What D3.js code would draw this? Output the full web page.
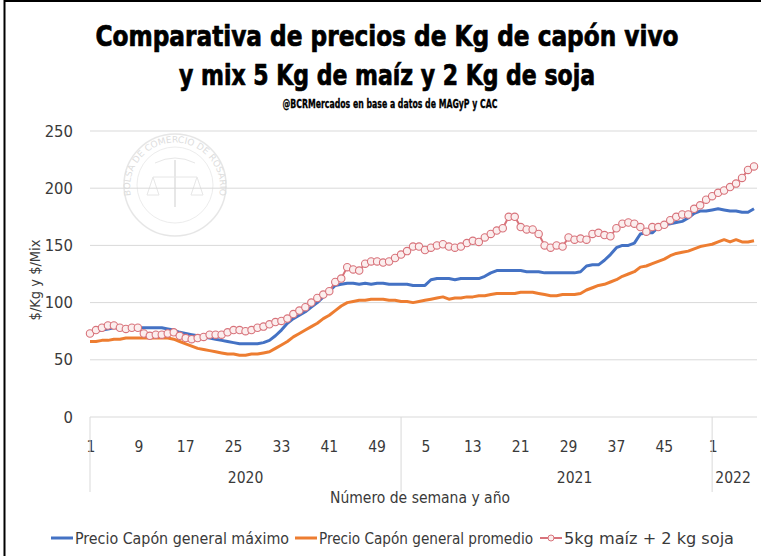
<!DOCTYPE html>
<html><head><meta charset="utf-8">
<script src="https://cdn.jsdelivr.net/npm/d3@7"></script>
<style>
body{margin:0;background:#fff;}
svg{display:block;}
</style></head>
<body>
<svg id="c" width="761" height="556"></svg>
<script>
// ---- data ----
const years = [2020, 2021, 2022];
const weeksPerYear = [52, 52, 8];
const yTicks = [0, 50, 100, 150, 200, 250];
const seriesNames = ["Precio Capón general máximo", "Precio Capón general promedio", "5kg maíz + 2 kg soja"];
const precioMaximo = [
 74,75,76,77,78,78,78,78,78,78,78,78,78,77,76,74,73,72,71,70,69,68,67,66,65,64,64,64,64,65,
 67,71,76,82,86,89,92,96,100,105,110,115,116,117,117,116,117,116,117,117,116,116,
 116,116,115,115,115,120,121,121,121,120,121,121,121,121,123,126,128,128,128,128,128,127,127,127,
 126,126,126,126,126,126,127,132,133,133,137,142,148,150,150,152,160,161,161,166,168,169,170,171,174,178,180,180,
 181,182,181,180,180,179,179,182];
const precioPromedio = [
 66,66,67,67,68,68,69,69,69,69,69,69,69,69,68,66,64,62,60,59,58,57,56,55,55,54,54,55,55,56,
 57,60,63,66,70,73,76,79,82,86,89,93,97,100,101,102,102,103,103,103,102,102,
 101,101,100,101,102,103,104,105,103,104,104,105,105,106,106,107,108,108,108,108,109,109,109,108,
 107,106,106,107,107,107,108,111,113,115,116,118,120,123,125,127,131,132,134,136,138,141,143,144,145,147,149,150,
 151,153,155,153,155,153,153,154];
const mixMaizSoja = [
 73,76,78,80,80,78,77,78,78,73,71,72,72,73,74,71,69,68,69,70,72,72,72,74,76,76,75,76,78,79,
 81,83,84,86,90,93,96,100,104,107,110,118,121,131,129,128,134,136,136,135,136,139,
 142,145,149,149,146,148,150,151,149,148,149,152,154,153,157,160,163,165,175,175,166,164,164,160,
 150,148,150,149,157,155,156,155,160,161,159,158,165,169,170,169,166,162,166,166,168,172,175,177,177,182,185,190,
 193,196,198,201,204,209,216,219];

// ---- build categories ----
const cats = [];
years.forEach((yr, k) => { for (let w = 1; w <= weeksPerYear[k]; w++) cats.push({year: yr, week: w}); });

const svg = d3.select("#c");
const W = 761, H = 556;
const pLeft = 90, pRight = 757, pTop = 131, pBottom = 417;
const x = d3.scaleLinear().domain([0, cats.length - 1]).range([pLeft, 754]);
const y = d3.scaleLinear().domain([0, 250]).range([pBottom, pTop]);

const axisFont = "'DejaVu Sans Condensed',sans-serif";
const txtCol = "#3a3a3a";

// frame
svg.append("line").attr("x1", 4.5).attr("x2", 4.5).attr("y1", 0).attr("y2", H).attr("stroke", "#000").attr("stroke-width", 2);
svg.append("line").attr("x1", 4).attr("x2", W).attr("y1", 1).attr("y2", 1).attr("stroke", "#000").attr("stroke-width", 2);

// titles
const tfont = "'DejaVu Sans Condensed','Roboto',sans-serif";
svg.append("text").attr("x", 387).attr("y", 46).attr("text-anchor", "middle")
  .attr("font-family", tfont).attr("font-weight", "bold").attr("font-size", 28)
  .attr("stroke", "#000").attr("stroke-width", 0.7)
  .attr("textLength", 583).attr("lengthAdjust", "spacingAndGlyphs")
  .text("Comparativa de precios de Kg de capón vivo");
svg.append("text").attr("x", 387).attr("y", 85).attr("text-anchor", "middle")
  .attr("font-family", tfont).attr("font-weight", "bold").attr("font-size", 28)
  .attr("stroke", "#000").attr("stroke-width", 0.7)
  .attr("textLength", 416).attr("lengthAdjust", "spacingAndGlyphs")
  .text("y mix 5 Kg de maíz y 2 Kg de soja");
svg.append("text").attr("x", 390).attr("y", 108).attr("text-anchor", "middle")
  .attr("font-family", tfont).attr("font-weight", "bold").attr("font-size", 12.5)
  .attr("stroke", "#000").attr("stroke-width", 0.3)
  .attr("textLength", 215).attr("lengthAdjust", "spacingAndGlyphs")
  .text("@BCRMercados en base a datos de MAGyP y CAC");

// watermark seal
const seal = svg.append("g").attr("transform", "translate(175,185)").attr("opacity", 0.5);
seal.append("circle").attr("r", 51).attr("fill", "none").attr("stroke", "#cfcfcf").attr("stroke-width", 1.5);
seal.append("circle").attr("r", 38).attr("fill", "none").attr("stroke", "#dcdcdc").attr("stroke-width", 1);
seal.append("path").attr("id", "sealArc").attr("d", "M -44,12 A 45,45 0 1,1 44,12").attr("fill", "none");
seal.append("text").attr("font-family", "DejaVu Sans").attr("font-size", 9).attr("fill", "#bdbdbd")
  .append("textPath").attr("href", "#sealArc").attr("startOffset", "50%").attr("text-anchor", "middle")
  .text("BOLSA DE COMERCIO DE ROSARIO");
seal.append("line").attr("x1", -22).attr("x2", 22).attr("y1", -8).attr("y2", -8).attr("stroke", "#d0d0d0");
seal.append("line").attr("x1", 0).attr("x2", 0).attr("y1", -25).attr("y2", 22).attr("stroke", "#d0d0d0").attr("stroke-width", 2);
seal.append("path").attr("d", "M-28,10 L-22,-8 L-16,10 Z M16,10 L22,-8 L28,10 Z").attr("fill", "none").attr("stroke", "#d0d0d0");
seal.append("path").attr("d", "M-20,-22 Q0,-32 20,-22").attr("fill", "none").attr("stroke", "#d0d0d0");

// gridlines
svg.append("g").selectAll("line").data(yTicks).join("line")
  .attr("x1", pLeft).attr("x2", pRight).attr("y1", d => y(d)).attr("y2", d => y(d))
  .attr("stroke", "#d9d9d9").attr("stroke-width", 1);

// y tick labels
svg.append("g").selectAll("text").data(yTicks).join("text")
  .attr("x", 73).attr("y", d => y(d) + 5.5).attr("text-anchor", "end")
  .attr("font-family", axisFont).attr("font-size", 16.5).attr("fill", txtCol)
  .text(d => d);

// y axis title
svg.append("text").attr("transform", "translate(40,280) rotate(-90)").attr("text-anchor", "middle")
  .attr("font-family", axisFont).attr("font-size", 14.5).attr("fill", txtCol)
  .text("$/Kg y $/Mix");

// x category axis
const tickIdx = cats.map((c, i) => i).filter(i => i % 8 === 0);
svg.append("g").selectAll("text").data(tickIdx).join("text")
  .attr("x", i => x(i) + (cats[i].week < 10 ? 1 : 0)).attr("y", 452).attr("text-anchor", "middle")
  .attr("font-family", axisFont).attr("font-size", 15.5).attr("fill", txtCol)
  .text(i => cats[i].week);
// year separators
const sepIdx = cats.map((c, i) => i).filter(i => cats[i].week === 1);
svg.append("g").selectAll("line").data(sepIdx).join("line")
  .attr("x1", i => x(i)).attr("x2", i => x(i)).attr("y1", pBottom).attr("y2", 492)
  .attr("stroke", "#d9d9d9");
const yearLabelIdx = [26, 81, 107.5];
svg.append("g").selectAll("text").data(years).join("text")
  .attr("x", (d, k) => x(yearLabelIdx[k])).attr("y", 483).attr("text-anchor", "middle")
  .attr("font-family", axisFont).attr("font-size", 15.5).attr("fill", txtCol)
  .text(d => d);
svg.append("text").attr("x", 420).attr("y", 503).attr("text-anchor", "middle")
  .attr("font-family", axisFont).attr("font-size", 15.5).attr("fill", txtCol)
  .text("Número de semana y año");

// lines
const colors = ["#4472C4", "#ED7D31", "#D8737B"];
const line = d3.line().x((d, i) => x(i)).y(d => y(d));
svg.append("path").datum(precioPromedio).attr("d", line).attr("fill", "none")
  .attr("stroke", colors[1]).attr("stroke-width", 3).attr("stroke-linejoin", "round");
svg.append("path").datum(precioMaximo).attr("d", line).attr("fill", "none")
  .attr("stroke", colors[0]).attr("stroke-width", 3).attr("stroke-linejoin", "round");
svg.append("path").datum(mixMaizSoja).attr("d", line).attr("fill", "none")
  .attr("stroke", colors[2]).attr("stroke-width", 2).attr("stroke-linejoin", "round");
svg.append("g").selectAll("circle").data(mixMaizSoja).join("circle")
  .attr("cx", (d, i) => x(i)).attr("cy", d => y(d)).attr("r", 3.7)
  .attr("fill", "#fbeeee").attr("stroke", colors[2]).attr("stroke-width", 1.1);

// legend
const legX = [51, 295, 540];
const legTextW = [214, 214, 170];
const lg = svg.append("g").selectAll("g").data(seriesNames).join("g")
  .attr("transform", (d, k) => `translate(${legX[k]},538)`);
lg.append("line").attr("x1", 0).attr("x2", 22).attr("y1", 0).attr("y2", 0)
  .attr("stroke", (d, k) => colors[k]).attr("stroke-width", (d, k) => k < 2 ? 3 : 2);
lg.filter((d, k) => k === 2).append("circle").attr("cx", 11).attr("cy", 0).attr("r", 3)
  .attr("fill", "#fbeeee").attr("stroke", colors[2]);
lg.append("text").attr("x", 24).attr("y", 5.5).attr("font-family", axisFont).attr("font-size", 16)
  .attr("textLength", (d, k) => legTextW[k]).attr("lengthAdjust", "spacingAndGlyphs")
  .attr("fill", txtCol).text(d => d);
</script>
</body></html>
